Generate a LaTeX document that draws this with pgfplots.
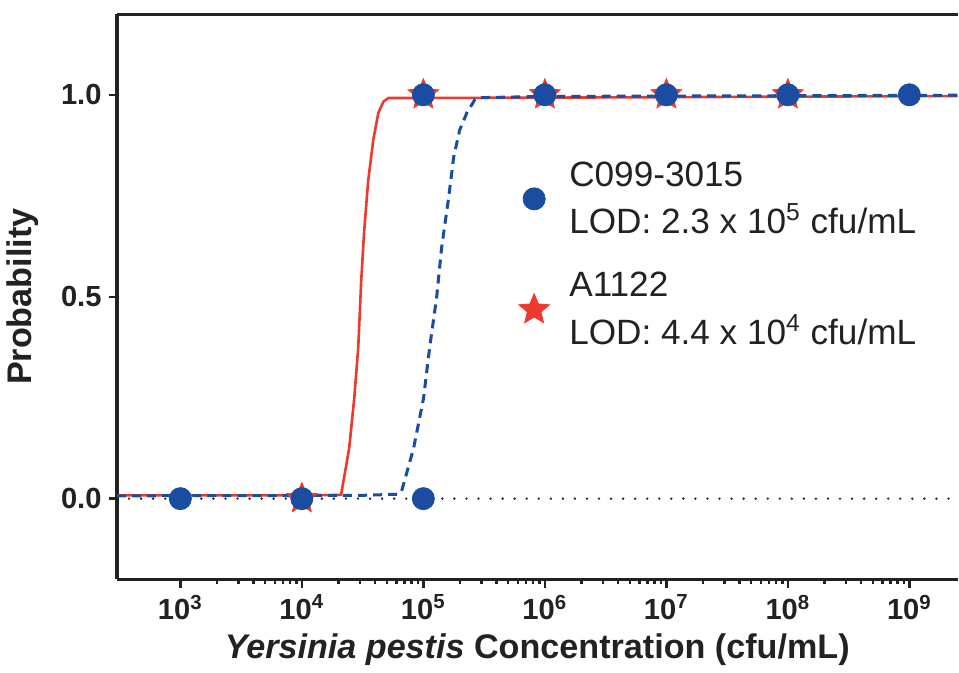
\documentclass[border=0pt]{standalone}
\usepackage{fontspec}
\setmainfont{Liberation Sans}
\usepackage{pgfplots}
\pgfplotsset{compat=1.18}

\definecolor{cblue}{HTML}{1A4DA1}
\definecolor{cred}{HTML}{EE3A2C}
\definecolor{axgray}{HTML}{222222}

% filled five-point star
\pgfdeclareplotmark{fullstar}{%
  \pgfpathmoveto{\pgfpointpolar{90}{\pgfplotmarksize}}%
  \pgfpathlineto{\pgfpointpolar{126}{0.45\pgfplotmarksize}}%
  \pgfpathlineto{\pgfpointpolar{162}{\pgfplotmarksize}}%
  \pgfpathlineto{\pgfpointpolar{198}{0.45\pgfplotmarksize}}%
  \pgfpathlineto{\pgfpointpolar{234}{\pgfplotmarksize}}%
  \pgfpathlineto{\pgfpointpolar{270}{0.45\pgfplotmarksize}}%
  \pgfpathlineto{\pgfpointpolar{306}{\pgfplotmarksize}}%
  \pgfpathlineto{\pgfpointpolar{342}{0.45\pgfplotmarksize}}%
  \pgfpathlineto{\pgfpointpolar{18}{\pgfplotmarksize}}%
  \pgfpathlineto{\pgfpointpolar{54}{0.45\pgfplotmarksize}}%
  \pgfpathclose
  \pgfusepathqfillstroke}

% legend image with more room between mark and text
\pgfplotsset{wideimg/.style={legend image code/.code={%
    \draw[##1] plot[only marks] coordinates {(8.5pt,0pt)};
    \path[draw=none, fill=none] (3pt,0pt) (24pt,0pt);}}}

\begin{document}
\begin{tikzpicture}
\begin{axis}[
  width=418.5pt, height=281.5pt, scale only axis,
  xmode=log, xmin=301, xmax=2.49e9,
  ymin=-0.2, ymax=1.2,
  axis x line*=box, axis y line*=left,
  xtick pos=bottom, ytick pos=left,
  axis line style={axgray, line width=1.5pt},
  tick style={axgray, line width=1.2pt},
  tick align=outside,
  major tick length=4.2pt, minor tick length=2.5pt,
  xtick={1e3,1e4,1e5,1e6,1e7,1e8,1e9},
  xticklabels={10\textsuperscript{3},10\textsuperscript{4},10\textsuperscript{5},10\textsuperscript{6},10\textsuperscript{7},10\textsuperscript{8},10\textsuperscript{9}},
  ytick={0,0.5,1},
  yticklabels={0.0,0.5,1.0},
  ticklabel style={font=\bfseries\fontsize{14.5}{17}\selectfont, text=axgray},
  xlabel={\textbf{\textit{Yersinia pestis}} \textbf{Concentration (cfu/mL)}},
  ylabel={\textbf{Probability}},
  label style={font=\fontsize{17}{20}\selectfont, text=axgray},
  ylabel style={at={(axis description cs:-0.1123,0.5)}, anchor=center},
  legend style={at={(rel axis cs:0.4705,0.575)}, anchor=west, draw=none, fill=none,
    font=\fontsize{17.5}{23.5}\selectfont, text=axgray, cells={align=left}, row sep=14pt},
  legend cell align=left,
  reverse legend,
  clip=false,
]
% zero reference line
\addplot[forget plot, axgray, line width=1.3pt, line cap=round, dash pattern=on 0pt off 6pt]
  coordinates {(301,0) (2.49e9,0)};

% A1122 fit
\addplot[forget plot, cred, line width=1.3pt] coordinates {
  (301,0.008) (1e4,0.008) (2.0e4,0.009) (2.105e4,0.01) (2.45e4,0.124) (2.70e4,0.249)
  (2.91e4,0.373) (3.08e4,0.54) (3.26e4,0.664) (3.52e4,0.789) (3.87e4,0.888)
  (4.26e4,0.955) (4.69e4,0.983) (5.15e4,0.992) (1e6,0.993) (2.49e9,0.997)
};

% C099-3015 fit
\addplot[forget plot, cblue, line width=1.5pt, dash pattern=on 4.5pt off 3pt] coordinates {
  (301,0.007) (3e4,0.008) (6.2e4,0.011) (6.60e4,0.017) (8.30e4,0.124) (1.004e5,0.249)
  (1.125e5,0.373) (1.286e5,0.498) (1.414e5,0.622) (1.616e5,0.746) (1.777e5,0.846)
  (1.992e5,0.913) (2.277e5,0.955) (2.652e5,0.988) (2.917e5,0.993) (1e6,0.996) (2.49e9,0.999)
};

% A1122 data
\addplot[only marks, wideimg, mark=fullstar, mark size=8pt, cred, fill=cred] coordinates {
  (1e4,0) (1e5,1) (1e6,1) (1e7,1) (1e8,1)
};
\addlegendentry{A1122\\LOD: 4.4 x 10\textsuperscript{4} cfu/mL}

% C099-3015 data
\addplot[only marks, wideimg, mark=*, mark size=5.5pt, cblue, fill=cblue] coordinates {
  (1e3,0) (1e4,0) (1e5,0) (1e5,1) (1e6,1) (1e7,1) (1e8,1) (1e9,1)
};
\addlegendentry{C099-3015\\LOD: 2.3 x 10\textsuperscript{5} cfu/mL}
\end{axis}
\path ([yshift=7pt]current axis.north);
\end{tikzpicture}
\end{document}
